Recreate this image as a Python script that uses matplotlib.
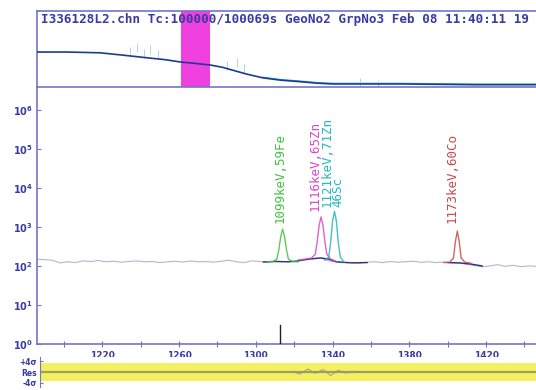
"""
Gamma spectrum screenshot - overview strip, zoomed log spectrum with peak fits,
and residual band underneath.
"""
import numpy as np
import matplotlib
matplotlib.use('Agg')
import matplotlib.pyplot as plt

# ---- overview strip (whole spectrum, arbitrary height units) ----
overview_ch = [0, 250, 517, 700, 928, 1050, 1174, 1300, 1420, 1520, 1609, 1720,
               1855, 2000, 2159, 2300, 2430, 2700, 2980, 3300, 3600, 3883, 4096]
overview_val = [46, 46, 45, 42, 38, 36, 33, 31, 29, 26, 22, 17,
                12, 9, 7, 5, 4, 4, 4, 3.5, 3, 3, 3]
overview_spike_ch = [760, 820, 880, 930, 990, 1560, 1640, 1700, 2650, 2800]
overview_spike_val = [52, 58, 50, 55, 49, 34, 38, 30, 12, 9]
zoom_window = (1186, 1420)

# ---- zoomed spectrum (counts) ----
raw_ch = np.arange(1186, 1447, 4)
raw_counts = [150, 145, 140, 120, 128, 122, 135, 130, 138, 128, 132, 125, 130,
              135, 128, 130, 122, 128, 132, 126, 134, 128, 130, 125, 132, 140,
              128, 122, 135, 130, 128, 132, 130, 128, 140, 150, 158, 160, 135,
              125, 120, 122, 118, 125, 128, 122, 130, 125, 128, 132, 124, 128,
              122, 126, 120, 118, 110, 102, 95, 100, 108, 98, 104, 96, 100, 98]

# fitted background under the peak regions
bkg_regions = [
    ([1304, 1310, 1316, 1322], [126, 130, 128, 132]),
    ([1322, 1328, 1334, 1338, 1342, 1350, 1358], [135, 150, 160, 150, 128, 120, 122]),
    ([1400, 1406, 1412, 1418], [122, 120, 112, 100]),
]

# fitted peaks
peak_fe_ch = [1306, 1309, 1311, 1312, 1313, 1314, 1315, 1316, 1317, 1319, 1322]
peak_fe_cts = [128, 130, 150, 260, 560, 880, 560, 260, 150, 130, 128]
peak_zn65_ch = [1322, 1326, 1329, 1331, 1332, 1333, 1334, 1335, 1336, 1337, 1339, 1342]
peak_zn65_cts = [140, 150, 160, 200, 420, 1100, 1800, 1100, 420, 200, 150, 130]
peak_zn71_ch = [1336, 1338, 1339, 1340, 1341, 1342, 1343, 1344, 1346]
peak_zn71_cts = [140, 170, 400, 1400, 2500, 1400, 400, 170, 125]
peak_co_ch = [1398, 1401, 1403, 1404, 1405, 1406, 1407, 1409, 1412]
peak_co_cts = [122, 124, 160, 420, 780, 420, 160, 124, 118]

peak_labels = ['1099keV,59Fe', '1116keV,65Zn', '1121keV,71Zn', '46Sc', '1173keV,60Co']
label_ch = [1312.5, 1331, 1337, 1343, 1402]
label_foot = [1250, 2550, 3300, 3300, 1230]

cursor_ch = 1312.6

# ---- residuals (sigma) ----
res_ch = [1319, 1323, 1327, 1331, 1335, 1339, 1343, 1347, 1351, 1355]
res_val = [0.2, -0.8, 1.1, -0.5, 0.9, -1.3, 0.6, -0.4, 0.3, 0.0]

# colours
axis_col = '#7474c8'
text_col = '#3a3aa0'
raw_col = '#b4b4d8'
bkg_col = '#303070'
c_fe = '#3cc43c'
c_zn65 = '#d846c8'
c_zn71 = '#22b8c0'
c_co = '#c84848'

fig = plt.figure(figsize=(5.36, 3.9), dpi=100, facecolor='white')

# ---------------- overview strip ----------------
ax_top = fig.add_axes([37 / 536, 1 - 87 / 390, 499 / 536, 76 / 390])
ax_top.set_xlim(0, 4096)
ax_top.set_ylim(0, 100)
ax_top.axvspan(*zoom_window, color='#f040e0', lw=0, zorder=1)
ax_top.plot(overview_ch, overview_val, color='#1c3c8c', lw=1.2, zorder=3)
ax_top.plot(overview_ch[12:], [v + 1.0 for v in overview_val[12:]],
            color='#30c0d0', lw=0.8, zorder=2)
ax_top.vlines(overview_spike_ch, [v - 12 for v in overview_spike_val],
              overview_spike_val, color='#a8d8e8', lw=0.7, zorder=2)
ax_top.text(0.008, 0.97, 'I336128L2.chn Tc:100000/100069s GeoNo2 GrpNo3 Feb 08 11:40:11 19',
            transform=ax_top.transAxes, ha='left', va='top', fontsize=9.1,
            family='DejaVu Sans Mono', weight='bold', color=text_col, zorder=5,
            clip_on=True)
ax_top.set_xticks([])
ax_top.set_yticks([])
for side in ('left', 'top', 'bottom'):
    ax_top.spines[side].set_color(axis_col)
    ax_top.spines[side].set_linewidth(1.2)
ax_top.spines['right'].set_visible(False)

# ---------------- main spectrum ----------------
ax = fig.add_axes([37 / 536, 1 - 344 / 390, 499 / 536, 256 / 390])
ax.set_yscale('log')
ax.set_xlim(1186, 1446)
ax.set_ylim(1, 10 ** 6.56)

ax.plot(raw_ch, raw_counts, color=raw_col, lw=0.8, zorder=2)
for ch, cts in bkg_regions:
    ax.plot(ch, cts, color=bkg_col, lw=1.0, zorder=3)

peaks = [(peak_fe_ch, peak_fe_cts, c_fe), (peak_zn65_ch, peak_zn65_cts, c_zn65),
         (peak_zn71_ch, peak_zn71_cts, c_zn71), (peak_co_ch, peak_co_cts, c_co)]
for ch, cts, col in peaks:
    ax.plot(ch, cts, color=col, lw=1.0, alpha=0.85, zorder=4)

label_cols = [c_fe, c_zn65, c_zn71, c_zn71, c_co]
for txt, x, y, col in zip(peak_labels, label_ch, label_foot, label_cols):
    ax.text(x, y, txt, rotation=90, ha='center', va='bottom', fontsize=9,
            family='DejaVu Sans Mono', color=col, zorder=5)

ax.axvline(cursor_ch, ymin=0, ymax=0.075, color='#202020', lw=1.0, zorder=5)

ax.set_yticks([10 ** k for k in range(7)])
ax.set_yticklabels([rf'$\mathbf{{10^{k}}}$' for k in range(7)])
ax.yaxis.set_minor_locator(matplotlib.ticker.NullLocator())
ax.set_xticks(np.arange(1220, 1446, 40))
ax.set_xticks(np.arange(1200, 1446, 20), minor=True)
ax.tick_params(axis='x', which='both', direction='inout', length=4, width=0.8,
               color=axis_col, labelsize=6.5, labelcolor=text_col, pad=3)
ax.tick_params(axis='y', which='major', direction='in', length=3, width=0.8,
               color=axis_col, labelsize=7, labelcolor=text_col, pad=3)
for lbl in ax.get_xticklabels():
    lbl.set_fontweight('bold')
for side in ('left', 'bottom'):
    ax.spines[side].set_color(axis_col)
    ax.spines[side].set_linewidth(1.2)
ax.spines['top'].set_visible(False)
ax.spines['right'].set_visible(False)

# ---------------- residual band ----------------
ax_res = fig.add_axes([40 / 536, 1 - 387 / 390, 496 / 536, 30 / 390])
ax_res.set_xlim(1187.6, 1446)
ax_res.set_ylim(-5.5, 5.5)
ax_res.axhspan(-3.2, 3.2, color='#f4f062', lw=0, zorder=1)
ax_res.axhline(0, color='#a0a060', lw=1.6, zorder=2)
ax_res.plot(res_ch, res_val, color='#909090', lw=0.6, zorder=3)
ax_res.set_xticks([])
ax_res.set_yticks([4, 0, -4])
ax_res.set_yticklabels(['+4σ', 'Res', '-4σ'])
ax_res.tick_params(axis='y', direction='in', length=2, width=0.8, color=axis_col,
                   labelsize=5.5, labelcolor=text_col, pad=2)
for lbl in ax_res.get_yticklabels():
    lbl.set_fontweight('bold')
ax_res.spines['left'].set_color(axis_col)
for side in ('top', 'right', 'bottom'):
    ax_res.spines[side].set_visible(False)

fig.savefig('out.png', dpi=100, facecolor='white')
